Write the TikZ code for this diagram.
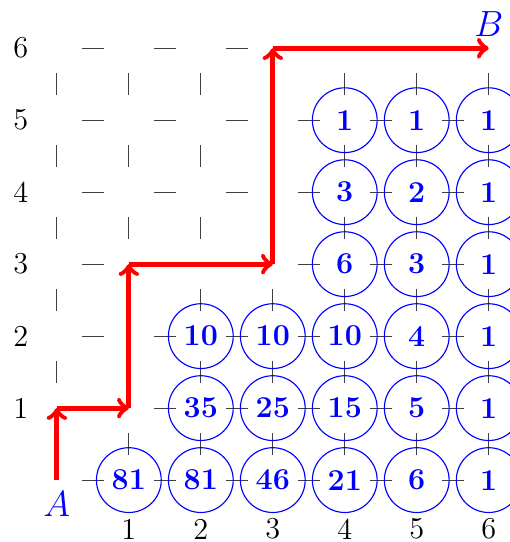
\documentclass[tikz,border=0pt]{standalone}
\begin{document}
\begin{tikzpicture}[
  gridtick/.style={black!75, line width=0.45pt},
  numcirc/.style={circle, draw=blue, line width=0.45pt, minimum size=0.9cm, inner sep=0pt, text=blue, font=\large\bfseries},
  patharrow/.style={red, line width=1.9pt, ->},
  axislabel/.style={font=\large, inner sep=0pt},
  endlabel/.style={text=blue, font=\Large, inner sep=0pt}
]
\useasboundingbox (-0.79,-0.86) rectangle (6.29,6.67);
% grid ticks
\foreach \x in {0,...,5}
  \foreach \y in {0,...,6}
    \draw[gridtick] (\x+0.35,\y) -- (\x+0.65,\y);
\foreach \x in {0,...,6}
  \foreach \y in {0,...,5}
    \draw[gridtick] (\x,\y+0.35) -- (\x,\y+0.65);
% numbered circles
\foreach \x/\y/\v in {1/0/81,2/0/81,3/0/46,4/0/21,5/0/6,6/0/1,
  2/1/35,3/1/25,4/1/15,5/1/5,6/1/1,
  2/2/10,3/2/10,4/2/10,5/2/4,6/2/1,
  4/3/6,5/3/3,6/3/1,
  4/4/3,5/4/2,6/4/1,
  4/5/1,5/5/1,6/5/1}
  \node[numcirc] (n\x\y) at (\x,\y) {\v};
% axis labels
\foreach \i in {1,...,6}{
  \node[axislabel] (xl\i) at (\i,-0.68) {\i};
  \node[axislabel] (yl\i) at (-0.5,\i) {\i};
}
% path coordinates
\coordinate (p0) at (0,0);
\coordinate (p1) at (0,1);
\coordinate (p2) at (1,1);
\coordinate (p3) at (1,3);
\coordinate (p4) at (3,3);
\coordinate (p5) at (3,6);
\coordinate (p6) at (6,6);
\draw[patharrow] (p0) -- (p1);
\draw[patharrow] (p1) -- (p2);
\draw[patharrow] (p2) -- (p3);
\draw[patharrow] (p3) -- (p4);
\draw[patharrow] (p4) -- (p5);
\draw[patharrow] (p5) -- (p6);
% end labels
\node[endlabel] (A) at (0,-0.33) {$A$};
\node[endlabel] (B) at (6,6.33) {$B$};
\end{tikzpicture}
\end{document}
